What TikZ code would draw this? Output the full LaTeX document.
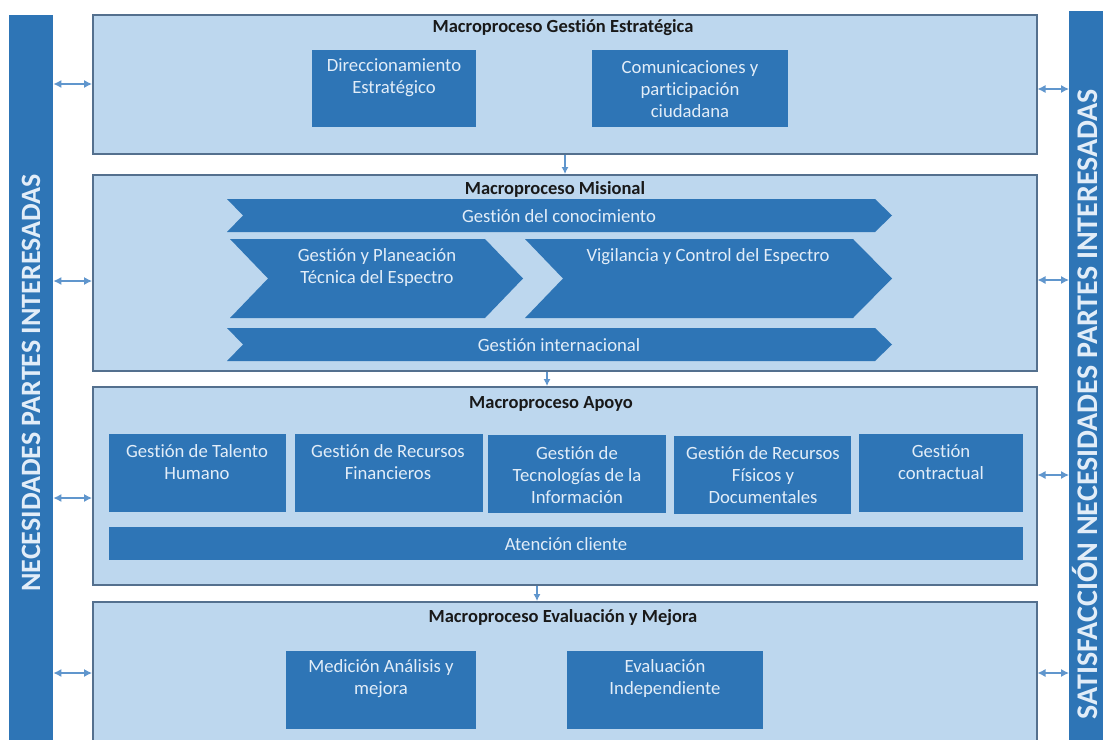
\documentclass[tikz,border=0pt]{standalone}
\usepackage{fontspec}
\setmainfont{Carlito}[Ligatures=NoCommon]
\usetikzlibrary{arrows.meta,calc}
\definecolor{lightfill}{RGB}{189,215,238}
\definecolor{macroborder}{RGB}{84,112,142}
\definecolor{darkblue}{RGB}{46,117,182}
\definecolor{boxtext}{RGB}{226,237,248}
\definecolor{arrowblue}{RGB}{96,150,205}
\tikzset{
  macro/.style={draw=macroborder, line width=1.5pt, fill=lightfill, anchor=north west, inner sep=0pt},
  dbox/.style={fill=darkblue, draw=none, anchor=north west, inner sep=0pt},
  bar/.style={fill=darkblue, draw=none, anchor=north west, inner sep=0pt},
  title/.style={font=\fontsize{18.5}{22}\selectfont\bfseries, text=black!90, inner sep=0pt},
  btext/.style={font=\fontsize{18.7}{22}\selectfont, text=boxtext, align=center, inner sep=0pt},
  vtext/.style={font=\fontsize{28}{30}\selectfont\bfseries, text=boxtext, inner sep=0pt, rotate=90},
  biarrow/.style={draw=arrowblue, line width=1.1pt, {Latex[length=8pt,width=8pt]}-{Latex[length=8pt,width=8pt]}},
  darrow/.style={draw=arrowblue, line width=1.1pt, -{Latex[length=7pt,width=7pt]}},
  chev/.style={fill=darkblue, draw=none}
}
\begin{document}
\begin{tikzpicture}[x=1pt,y=-1pt]
\useasboundingbox (0,0) rectangle (1103,739);
\clip (0,0) rectangle (1103,739);
% side bars
\node[bar, minimum width=44pt, minimum height=730pt] (L) at (9,15) {};
\node[bar, minimum width=40pt, minimum height=730pt] (R) at (1069,11) {};
\node[vtext] (Ltxt) at (31,383) {NECESIDADES PARTES INTERESADAS};
\node[vtext, font=\fontsize{30}{32}\selectfont\bfseries] (Rtxt) at (1085,404) {SATISFACCIÓN NECESIDADES PARTES INTERESADAS};
% macro boxes
\node[macro, minimum width=944pt, minimum height=139pt] (m1) at (92,14) {};
\node[macro, minimum width=944pt, minimum height=196pt] (m2) at (92,174) {};
\node[macro, minimum width=944pt, minimum height=198pt] (m3) at (92,386) {};
\node[macro, minimum width=944pt, minimum height=160pt] (m4) at (92,601) {};
% titles
\node[title] (t1) at (563,28) {Macroproceso Gestión Estratégica};
\node[title] (t3) at (551,404) {Macroproceso Apoyo};
\node[title] (t4) at (563,618) {Macroproceso Evaluación y Mejora};
% box 1
\node[dbox, minimum width=164pt, minimum height=77pt] (d1) at (312,50) {};
\node[dbox, minimum width=196pt, minimum height=77pt] (d2) at (592,50) {};
\node[btext] (d1t) at (394,78) {Direccionamiento\\Estratégico};
\node[btext] (d2t) at (690,89) {Comunicaciones y\\participación\\ciudadana};
% box 2 chevrons
\fill[chev] (227,199) -- (875,199) -- (892,215.5) -- (875,232) -- (227,232) -- (243,215.5) -- cycle;
\fill[chev] (230,239) -- (485,239) -- (523,278.5) -- (485,318) -- (230,318) -- (268,278.5) -- cycle;
\fill[chev] (525,239) -- (853,239) -- (892,278.5) -- (853,318) -- (525,318) -- (563,278.5) -- cycle;
\fill[chev] (227,328) -- (875,328) -- (892,344.5) -- (875,361) -- (227,361) -- (243,344.5) -- cycle;
\node[title] (t2) at (555,189) {Macroproceso Misional};
\node[btext] (c1) at (559,216) {Gestión del conocimiento};
\node[btext] (c2) at (377,268) {Gestión y Planeación\\Técnica del Espectro};
\node[btext] (c3) at (708,257) {Vigilancia y Control del Espectro};
\node[btext] (c4) at (559,345) {Gestión internacional};
% box 3
\node[dbox, minimum width=177pt, minimum height=78pt] (a1) at (109,434) {};
\node[dbox, minimum width=188pt, minimum height=78pt] (a2) at (295,434) {};
\node[dbox, minimum width=178pt, minimum height=78pt] (a3) at (488,435) {};
\node[dbox, minimum width=177pt, minimum height=78pt] (a4) at (674,436) {};
\node[dbox, minimum width=164pt, minimum height=78pt] (a5) at (859,434) {};
\node[dbox, minimum width=914pt, minimum height=33pt] (a6) at (109,527) {};
\node[btext] (a1t) at (197,462) {Gestión de Talento\\Humano};
\node[btext] (a2t) at (388,462) {Gestión de Recursos\\Financieros};
\node[btext] (a3t) at (577,475) {Gestión de\\Tecnologías de la\\Información};
\node[btext] (a4t) at (763,475) {Gestión de Recursos\\Físicos y\\Documentales};
\node[btext] (a5t) at (941,462) {Gestión\\contractual};
\node[btext] (a6t) at (566,544) {Atención cliente};
% box 4
\node[dbox, minimum width=190pt, minimum height=78pt] (e1) at (286,651) {};
\node[dbox, minimum width=196pt, minimum height=78pt] (e2) at (567,651) {};
\node[btext] (e1t) at (381,679) {Medición Análisis y\\mejora};
\node[btext] (e2t) at (665,679) {Evaluación\\Independiente};
% left arrows
\draw[biarrow] (L.east |- 0,84) -- (m1.west |- 0,84);
\draw[biarrow] (L.east |- 0,281) -- (m2.west |- 0,281);
\draw[biarrow] (L.east |- 0,498) -- (m3.west |- 0,498);
\draw[biarrow] (L.east |- 0,673) -- (m4.west |- 0,673);
% right arrows
\draw[biarrow] (m1.east |- 0,89) -- (R.west |- 0,89);
\draw[biarrow] (m2.east |- 0,280) -- (R.west |- 0,280);
\draw[biarrow] (m3.east |- 0,475) -- (R.west |- 0,475);
\draw[biarrow] (m4.east |- 0,673) -- (R.west |- 0,673);
% down arrows
\draw[darrow] (m1.south -| 565,0) -- (m2.north -| 565,0);
\draw[darrow] (m2.south -| 547,0) -- (m3.north -| 547,0);
\draw[darrow] (m3.south -| 537,0) -- (m4.north -| 537,0);
\end{tikzpicture}
\end{document}
